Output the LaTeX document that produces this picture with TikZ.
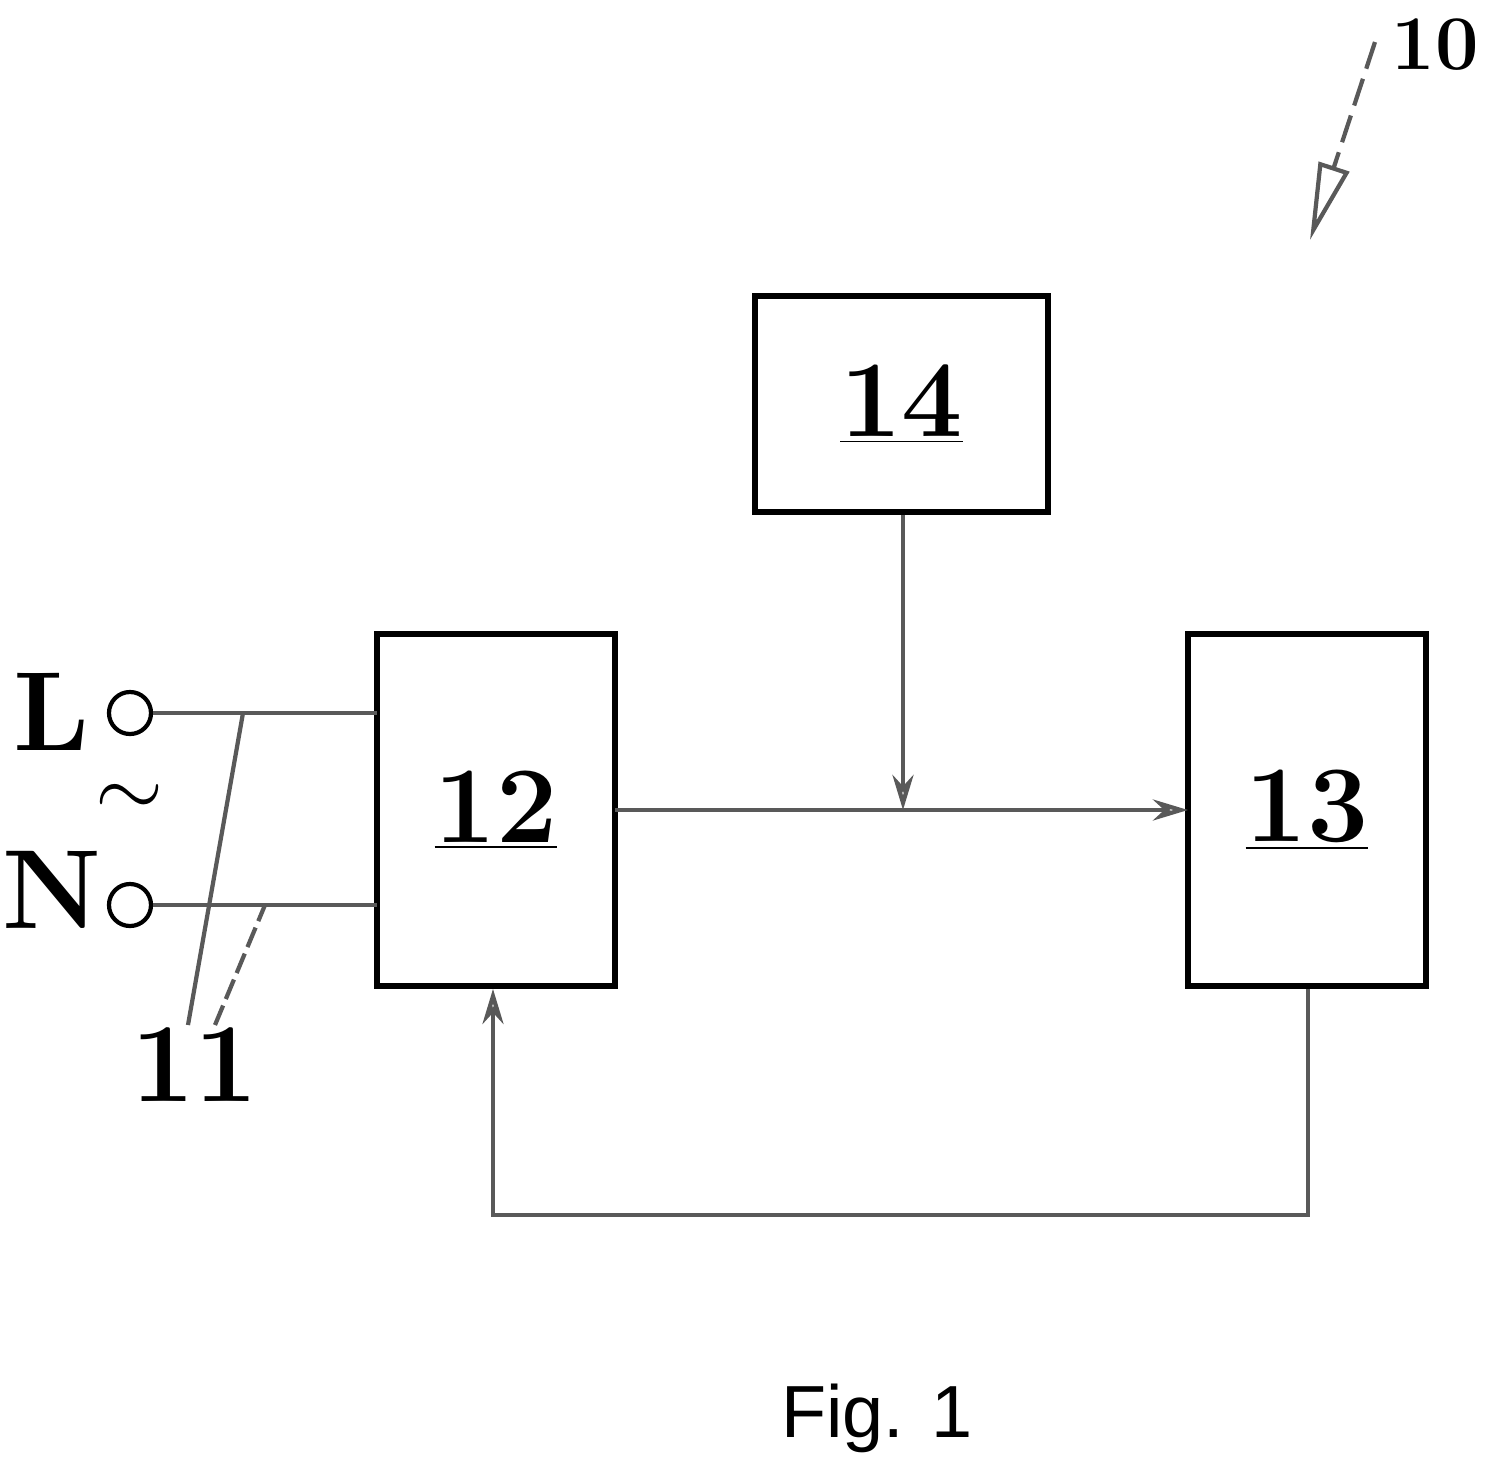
\documentclass[tikz,border=0pt]{standalone}
\usepackage{fontspec}
\newfontfamily\sansf{Liberation Sans}
\usetikzlibrary{arrows.meta}
\begin{document}
\begin{tikzpicture}[x=0.01cm,y=-0.01cm,
  box/.style={draw,line width=1.6pt,inner sep=0pt,font=\fontsize{31}{31}\selectfont\bfseries},
  wire/.style={line width=1.2pt,gray!70!black},
  arr/.style={wire,-{Stealth[length=10pt,width=6pt,open]}},
  lab/.style={font=\fontsize{32}{32}\selectfont\bfseries}]
\useasboundingbox (0,0) rectangle (1487,1469);
\node[box,minimum width=2.93cm,minimum height=2.16cm] (b14) at (901.5,404) {\underline{14}};
\node[box,minimum width=2.38cm,minimum height=3.52cm] (b12) at (496,810) {\underline{12}};
\node[box,minimum width=2.38cm,minimum height=3.52cm] (b13) at (1307,810) {\underline{13}};
\node[draw,circle,line width=1.2pt,minimum size=0.42cm,inner sep=0pt] (cL) at (130,713) {};
\node[draw,circle,line width=1.2pt,minimum size=0.42cm,inner sep=0pt] (cN) at (130,905) {};
\node[lab] (tL) at (52,712) {L};
\node[lab] (tN) at (52,890) {N};
\node[font=\fontsize{60}{60}\selectfont] (tilde) at (130,800) {$\sim$};
\coordinate (pL) at (377,713);
\coordinate (pN) at (377,905);
\draw[wire] (cL.east) -- (pL);
\draw[wire] (cN.east) -- (pN);
\coordinate (a12) at (615,810);
\coordinate (a13) at (1188,810);
\coordinate (j) at (903,810);
\draw[wire] (a12) -- (j);
\draw[arr] (j) -- (a13);
\draw[arr] (b14.south -| j) -- (j);
\coordinate (f1) at (1308,1215);
\coordinate (f2) at (493,1215);
\draw[arr] (b13.south -| f1) -- (f1) -- (f2) -- (b12.south -| f2);
\node[lab] (t11) at (195,1065) {11};
\coordinate (l1) at (243,713);
\coordinate (l2) at (265,905);
\draw[wire] (188,1025) -- (l1);
\draw[wire,dash pattern=on 6pt off 2pt] (215,1025) -- (l2);
\node[font=\fontsize{22}{22}\selectfont\bfseries] (t10) at (1435,45) {10};
\coordinate (r1) at (1375,42);
\coordinate (r2) at (1310,240);
\draw[wire,dash pattern=on 8pt off 3pt,-{Triangle[length=22pt,width=9pt,open]}] (r1) -- (r2);
\node[font=\sansf\fontsize{21}{21}\selectfont] (fig) at (877,1418) {Fig. 1};
\end{tikzpicture}
\end{document}
